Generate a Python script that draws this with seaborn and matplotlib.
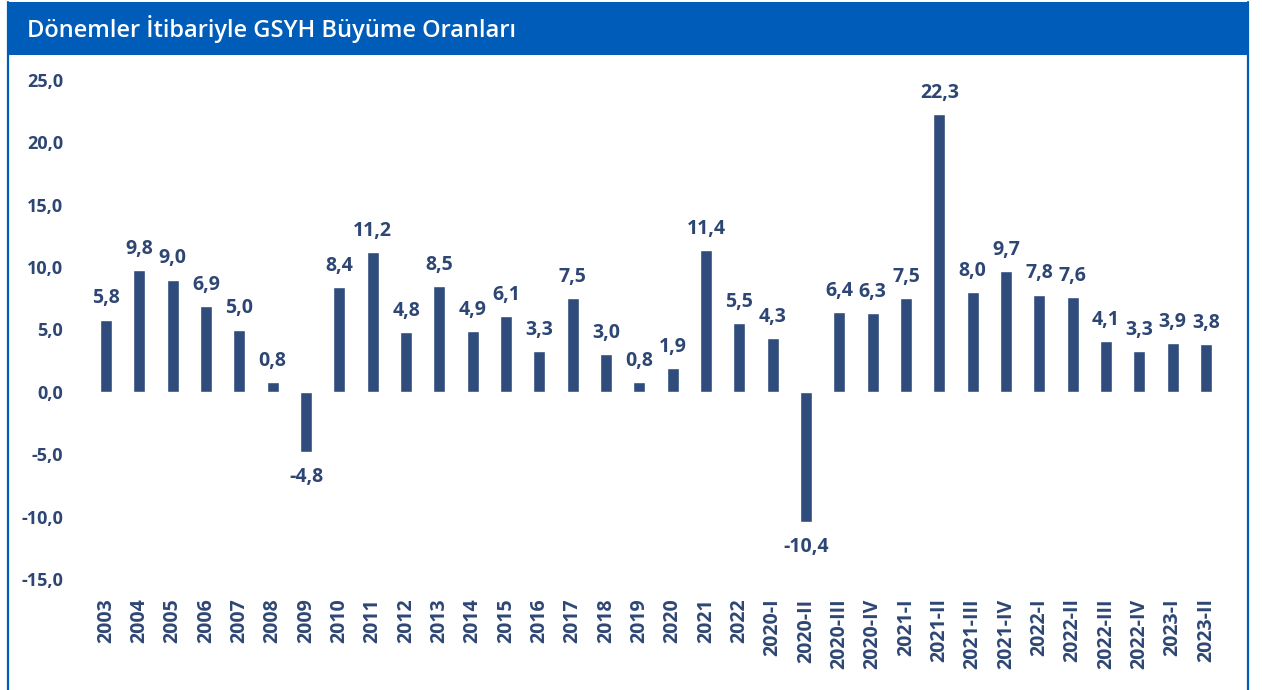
import matplotlib
matplotlib.use("Agg")
import matplotlib.pyplot as plt
import seaborn as sns
import pandas as pd
from matplotlib.patches import Rectangle
from matplotlib.lines import Line2D

categories = ["2003", "2004", "2005", "2006", "2007", "2008", "2009", "2010", "2011",
              "2012", "2013", "2014", "2015", "2016", "2017", "2018", "2019", "2020",
              "2021", "2022", "2020-I", "2020-II", "2020-III", "2020-IV", "2021-I",
              "2021-II", "2021-III", "2021-IV", "2022-I", "2022-II", "2022-III",
              "2022-IV", "2023-I", "2023-II"]
values = [5.8, 9.8, 9.0, 6.9, 5.0, 0.8, -4.8, 8.4, 11.2, 4.8, 8.5, 4.9, 6.1, 3.3,
          7.5, 3.0, 0.8, 1.9, 11.4, 5.5, 4.3, -10.4, 6.4, 6.3, 7.5, 22.3, 8.0, 9.7,
          7.8, 7.6, 4.1, 3.3, 3.9, 3.8]
yticks = [-15, -10, -5, 0, 5, 10, 15, 20, 25]
title = "Dönemler İtibariyle GSYH Büyüme Oranları"

BAR = "#304C7C"
TXT = "#2D4674"
BLUE = "#005CB9"

sns.set_theme(style="white")
plt.rcParams["font.family"] = ["Open Sans", "DejaVu Sans"]

W, H = 1262, 690
fig = plt.figure(figsize=(W / 100, H / 100), dpi=100)

n = len(categories)
step = (1206 - 106) / (n - 1)
x0 = 106 - 0.5 * step
x1 = 106 + (n - 0.5) * step
y_top, y_bot = 80, 579
ax = fig.add_axes([x0 / W, 1 - y_bot / H, (x1 - x0) / W, (y_bot - y_top) / H])

df = pd.DataFrame({"cat": categories, "val": values})
sns.barplot(data=df, x="cat", y="val", color=BAR, saturation=1, width=0.36,
            ax=ax, order=categories)
ax.set_xlim(-0.5, n - 0.5)
ax.set_ylim(-15, 25)
ax.set_yticks(yticks)
ax.set_yticklabels([f"{t:.1f}".replace(".", ",") for t in yticks],
                   fontsize=13, fontweight="bold", color=TXT)
ax.set_xticks(range(n))
ax.set_xticklabels(categories, rotation=90, fontsize=14, fontweight="bold",
                   color=TXT, va="top", ha="center")
ax.tick_params(axis="y", length=0, pad=19)
ax.tick_params(axis="x", length=0, pad=14)
for s in ax.spines.values():
    s.set_visible(False)
ax.set_xlabel("")
ax.set_ylabel("")
ax.grid(False)

for i, v in enumerate(values):
    lab = f"{v:.1f}".replace(".", ",")
    if v >= 0:
        ax.annotate(lab, (i, v), xytext=(0, 8), textcoords="offset points",
                    ha="center", va="bottom", fontsize=14, fontweight="bold",
                    color=TXT)
    else:
        ax.annotate(lab, (i, v), xytext=(0, -11), textcoords="offset points",
                    ha="center", va="top", fontsize=14, fontweight="bold",
                    color=TXT)

# title bar and frame
fig.patches.append(Rectangle((8 / W, 1 - 55 / H), (1249 - 8) / W, 53 / H,
                             transform=fig.transFigure, facecolor=BLUE,
                             edgecolor="none", zorder=0))
fig.lines.append(Line2D([8 / W, 8 / W], [0, 1 - 2 / H], transform=fig.transFigure,
                        color=BLUE, lw=1.6))
fig.lines.append(Line2D([1248 / W, 1248 / W], [0, 1 - 2 / H], transform=fig.transFigure,
                        color=BLUE, lw=1.6))
fig.text(27 / W, 1 - 29 / H, title, color="white", fontsize=17,
         fontweight="semibold", va="center", ha="left")

fig.savefig("out.png", dpi=100, facecolor="white")
